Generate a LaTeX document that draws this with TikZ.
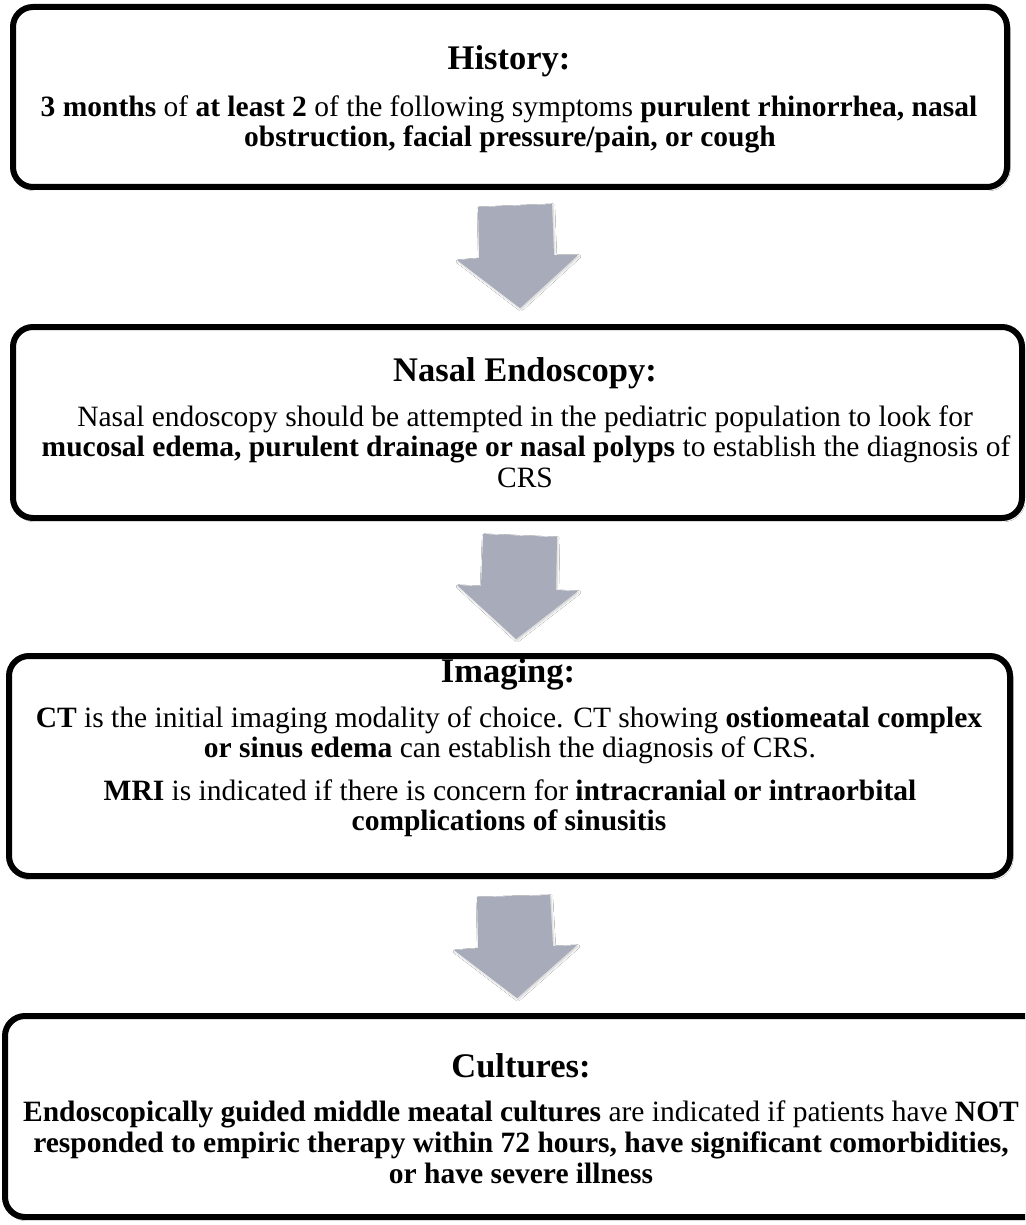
\documentclass[tikz,border=0pt]{standalone}
\usepackage{fontspec}
\setmainfont{Liberation Serif}
\usetikzlibrary{shadows.blur}

\definecolor{arrowgray}{RGB}{168,172,186}

\tikzset{
  box/.style={draw=black, line width=6pt, rounded corners=20pt, fill=white,
    inner sep=0pt, outer sep=0pt,
    blur shadow={shadow blur steps=6, shadow xshift=1.5pt, shadow yshift=-2pt, shadow opacity=25}},
  flowarrow/.style={fill=arrowgray,
    blur shadow={shadow blur steps=5, shadow xshift=1pt, shadow yshift=-1.5pt, shadow opacity=20}},
  title/.style={anchor=base, inner sep=0pt, font=\fontsize{34.5}{40}\selectfont\bfseries},
  body/.style={anchor=base, inner sep=0pt, font=\fontsize{29.5}{30}\selectfont},
}

\begin{document}
\begin{tikzpicture}[x=1pt, y=-1pt]
  \clip (0,0) rectangle (1025,1225);
  \fill[white] (0,0) rectangle (1025,1225);

  % Boxes
  \node[box, minimum width=994pt, minimum height=180pt] (b1) at (510,97) {};
  \node[box, minimum width=1009pt, minimum height=191pt] (b2) at (517.5,422.5) {};
  \node[box, minimum width=1001pt, minimum height=220pt] (b3) at (509.5,766) {};
  \node[box, minimum width=1065pt, minimum height=201pt] (b4) at (537.5,1116.5) {};

  % Block arrows between the boxes
  \fill[flowarrow] (478,207) -- (552,204) -- (554,255) -- (578,255) -- (520,308)
    -- (457,260) -- (479,258) -- cycle;
  \fill[flowarrow] (483,534) -- (557,537) -- (556,590) -- (578,591) -- (516,639)
    -- (457,585) -- (481,586) -- cycle;
  \fill[flowarrow] (477,897) -- (550,895) -- (553,946) -- (577,945) -- (517,998)
    -- (454,950) -- (478,948) -- cycle;

  % History
  \node[title] (t1) at (509,70) {History:};
  \node[body] (h1) at (509,117) {\textbf{3 months} of \textbf{at least 2} of the following symptoms \textbf{purulent rhinorrhea, nasal}};
  \node[body] (h2) at (510,147) {\textbf{obstruction, facial pressure/pain, or cough}};

  % Nasal endoscopy
  \node[title] (t2) at (525,381) {Nasal Endoscopy:};
  \node[body] (n1) at (525,426) {Nasal endoscopy should be attempted in the pediatric population to look for};
  \node[body] (n2) at (526,456) {\textbf{mucosal edema, purulent drainage or nasal polyps} to establish the diagnosis of};
  \node[body] (n3) at (525,487) {CRS};

  % Imaging
  \node[title] (t3) at (508,682) {Imaging:};
  \node[body] (i1) at (509,727) {\textbf{CT} is the initial imaging modality of choice. CT showing \textbf{ostiomeatal complex}};
  \node[body] (i2) at (510,757) {\textbf{or sinus edema} can establish the diagnosis of CRS.};
  \node[body] (i3) at (510,800) {\textbf{MRI} is indicated if there is concern for \textbf{intracranial or intraorbital}};
  \node[body] (i4) at (509,830) {\textbf{complications of sinusitis}};

  % Cultures
  \node[title] (t4) at (521,1077) {Cultures:};
  \node[body] (c1) at (521,1121) {\textbf{Endoscopically guided middle meatal cultures} are indicated if patients have \textbf{NOT}};
  \node[body] (c2) at (521,1152) {\textbf{responded to empiric therapy within 72 hours, have significant comorbidities,}};
  \node[body] (c3) at (521,1183) {\textbf{or have severe illness}};
\end{tikzpicture}
\end{document}
